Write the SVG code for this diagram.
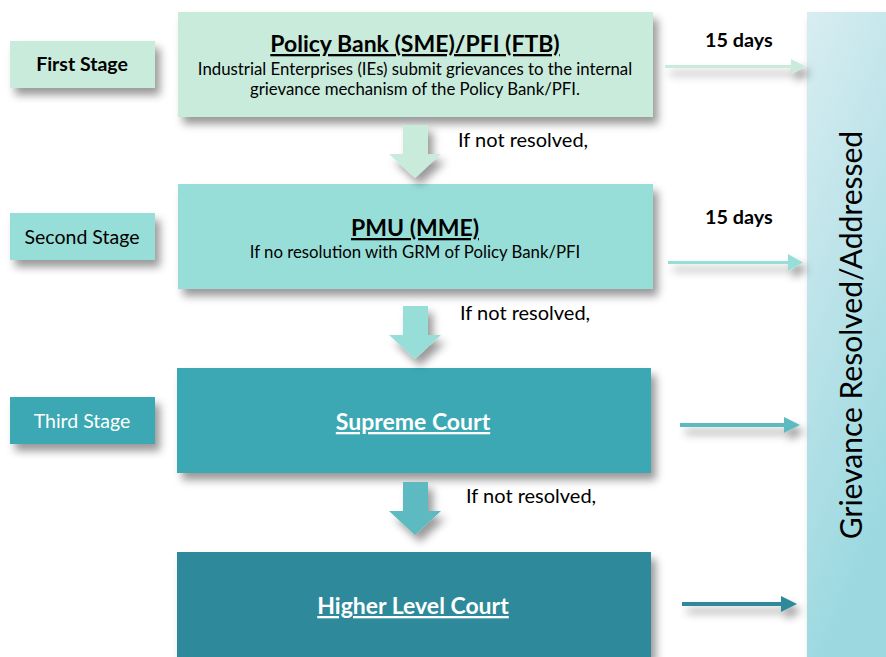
<svg xmlns="http://www.w3.org/2000/svg" width="886" height="657" viewBox="0 0 886 657">
<style>
text{font-family:Lato,"Liberation Sans",sans-serif;}
.stg{font-size:19.5px;text-anchor:middle;}
.ttl{font-size:23px;font-weight:bold;text-anchor:middle;text-decoration:underline;}
.sub{font-size:16.8px;text-anchor:middle;fill:#000;}
.lbl{font-size:20px;fill:#000;}
.days{font-size:19.8px;font-weight:bold;fill:#000;}
.c1{fill:#c9ebdc;}
.c2{fill:#98ded8;}
.c3{fill:#3aa8b3;}
.c4{fill:#2e8a9a;}
</style>
<defs>
<filter id="sh" x="-10%" y="-20%" width="130%" height="150%">
<feDropShadow dx="5" dy="7" stdDeviation="4" flood-color="#000" flood-opacity="0.4"/>
</filter>
<linearGradient id="gr" x1="0" y1="0" x2="0.3" y2="1">
<stop offset="0" stop-color="#d8edf1"/>
<stop offset="1" stop-color="#9bd8e0"/>
</linearGradient>
</defs>
<rect width="886" height="657" fill="#fff"/>

<g id="result">
<rect x="807" y="12" width="79" height="645" fill="url(#gr)" filter="url(#sh)"/>
<text transform="translate(862,335) rotate(-90)" text-anchor="middle" font-size="30" fill="#000">Grievance Resolved/Addressed</text>
</g>

<g id="stage1">
<rect class="c1" x="10" y="41" width="145" height="47" filter="url(#sh)"/>
<text class="stg" x="82" y="71" font-weight="bold">First Stage</text>
</g>
<g id="stage2">
<rect class="c2" x="10" y="213" width="145" height="47" filter="url(#sh)"/>
<text class="stg" x="82" y="244">Second Stage</text>
</g>
<g id="stage3">
<rect class="c3" x="10" y="397" width="145" height="47" filter="url(#sh)"/>
<text class="stg" x="82" y="428" fill="#fff">Third Stage</text>
</g>

<g id="policybank">
<rect class="c1" x="178" y="12" width="475" height="105" filter="url(#sh)"/>
<text class="ttl" x="415" y="52" fill="#000">Policy Bank (SME)/PFI (FTB)</text>
<text class="sub" x="415" y="75">Industrial Enterprises (IEs) submit grievances to the internal</text>
<text class="sub" x="415" y="95">grievance mechanism of the Policy Bank/PFI.</text>
</g>
<g id="pmu">
<rect class="c2" x="178" y="184" width="475" height="105" filter="url(#sh)"/>
<text class="ttl" x="415" y="236" fill="#000">PMU (MME)</text>
<text class="sub" x="415" y="258">If no resolution with GRM of Policy Bank/PFI</text>
</g>
<g id="supreme">
<rect class="c3" x="177" y="368" width="474" height="105" filter="url(#sh)"/>
<text class="ttl" x="413" y="430" fill="#fff">Supreme Court</text>
</g>
<g id="higher">
<rect class="c4" x="177" y="552" width="474" height="105" filter="url(#sh)"/>
<text class="ttl" x="413" y="614" fill="#fff">Higher Level Court</text>
</g>

<g id="connectors">
<polygon class="c1" points="403,125 428,125 428,154 441,154 415,178 389,154 403,154" filter="url(#sh)"/>
<polygon class="c2" points="403,306 428,306 428,335 441,335 415,359 389,335 403,335" filter="url(#sh)"/>
<polygon fill="#5bbac0" points="403,482 428,482 428,511 441,511 415,535 389,511 403,511" filter="url(#sh)"/>

<g filter="url(#sh)">
<polygon fill="#c9ebdc" points="665,65 791,65 791,59 806,66.5 791,74 791,68 665,68"/>
<polygon fill="#98ded8" points="668,261 788,261 788,254 803,262.5 788,271 788,264 668,264"/>
<polygon fill="#5bbac0" points="680,423 784,423 784,417 800,425 784,433 784,427 680,427"/>
<polygon fill="#2e8a9a" points="682,602 781,602 781,596 797,604 781,612 781,606 682,606"/>
</g>
<text class="lbl" x="458" y="147">If not resolved,</text>
<text class="lbl" x="460" y="320">If not resolved,</text>
<text class="lbl" x="466" y="503">If not resolved,</text>
<text class="days" x="705" y="47">15 days</text>
<text class="days" x="705" y="224">15 days</text>
</g>
</svg>
